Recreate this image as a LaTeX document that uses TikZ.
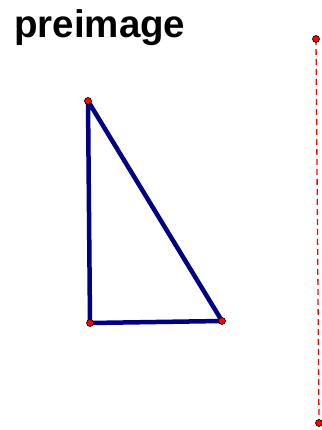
\documentclass[tikz,border=0pt]{standalone}
\usepackage{fontspec}
\setmainfont{Liberation Sans}
\begin{document}
\begin{tikzpicture}[x=1pt,y=-1pt,
  edge/.style={draw={rgb,255:red,0;green,0;blue,128},line width=4.5pt,line join=round},
  pt/.style={circle,fill=red,draw=black,line width=0.6pt,inner sep=0pt,minimum size=7pt},
  axis/.style={draw=red,dashed,line width=1.3pt,dash pattern=on 6pt off 4pt}]
\useasboundingbox (0,0) rectangle (321,430);
\node[anchor=base west,inner sep=0pt,font=\fontsize{38.5}{42}\selectfont\bfseries] (title) at (14,38) {preimage};
\coordinate (A) at (88,101);
\coordinate (B) at (90,323);
\coordinate (C) at (222,321);
\coordinate (P) at (316,39);
\coordinate (Q) at (319,423);
\draw[axis] (P) -- (Q);
\draw[edge] (A) -- (B) -- (C) -- cycle;
\node[pt] (a) at (A) {};
\node[pt] (b) at (B) {};
\node[pt] (c) at (C) {};
\node[pt] (p) at (P) {};
\node[pt] (q) at (Q) {};
\end{tikzpicture}
\end{document}
